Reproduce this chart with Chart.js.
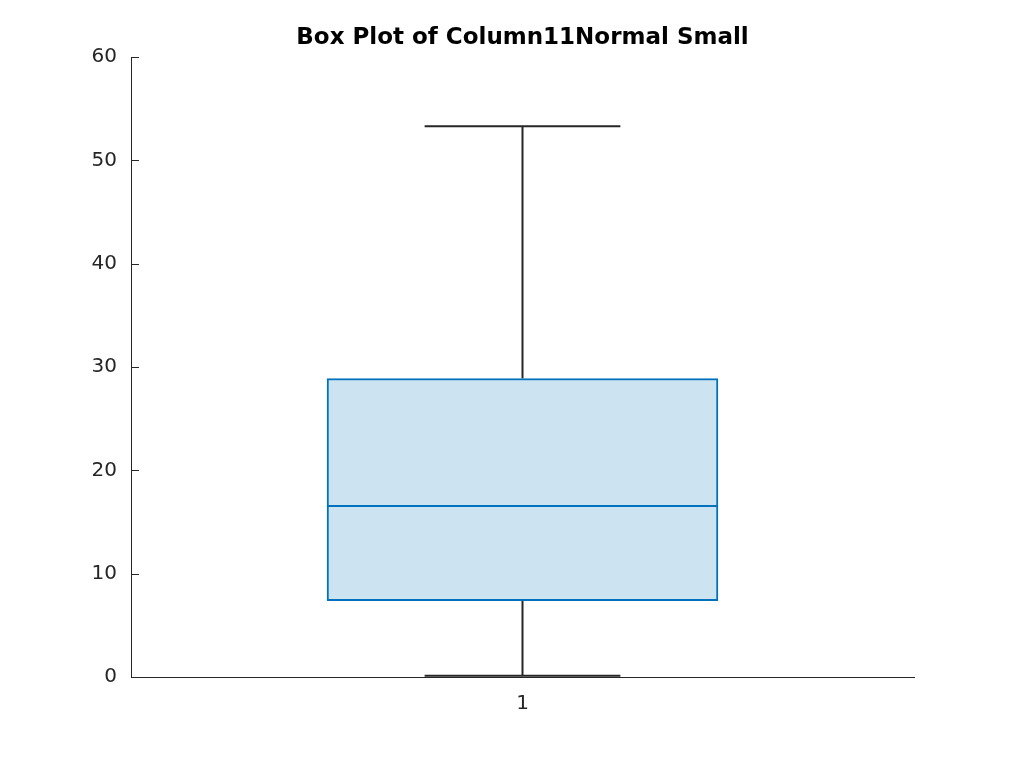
<!DOCTYPE html>
<html>
<head>
<meta charset="utf-8">
<script src="https://cdn.jsdelivr.net/npm/chart.js@4.4.0/dist/chart.umd.min.js"></script>
<style>
  body { margin: 0; background: #fff; }
  #wrap { width: 1011px; height: 761px; }
</style>
</head>
<body>
<div id="wrap"><canvas id="boxChart" width="1011" height="761"></canvas></div>
<script>
// box plot values
const categories = ['1'];
const lowerWhisker = [0.12];
const q1 = [7.35];
const median = [16.55];
const q3 = [28.9];
const upperWhisker = [53.3];
const yTicks = [0, 10, 20, 30, 40, 50, 60];

const axisColor = '#262626';
const boxBlue = '#0072BD';

// whiskers, median line and inward tick marks
const boxExtras = {
  id: 'boxExtras',
  afterDatasetsDraw(chart) {
    const ctx = chart.ctx;
    const y = chart.scales.y;
    const meta = chart.getDatasetMeta(0);
    meta.data.forEach((bar, i) => {
      const half = bar.width / 2;
      const capHalf = bar.width / 4;
      ctx.save();
      ctx.lineWidth = 2;
      ctx.strokeStyle = axisColor;
      ctx.beginPath();
      ctx.moveTo(bar.x, y.getPixelForValue(q3[i]));
      ctx.lineTo(bar.x, y.getPixelForValue(upperWhisker[i]));
      ctx.moveTo(bar.x, y.getPixelForValue(q1[i]));
      ctx.lineTo(bar.x, y.getPixelForValue(lowerWhisker[i]));
      ctx.moveTo(bar.x - capHalf, y.getPixelForValue(upperWhisker[i]));
      ctx.lineTo(bar.x + capHalf, y.getPixelForValue(upperWhisker[i]));
      ctx.moveTo(bar.x - capHalf, y.getPixelForValue(lowerWhisker[i]));
      ctx.lineTo(bar.x + capHalf, y.getPixelForValue(lowerWhisker[i]));
      ctx.stroke();
      ctx.strokeStyle = boxBlue;
      ctx.beginPath();
      ctx.moveTo(bar.x - half + 1, y.getPixelForValue(median[i]));
      ctx.lineTo(bar.x + half - 1, y.getPixelForValue(median[i]));
      ctx.stroke();
      ctx.restore();
    });
    // tick marks pointing into the plot
    const left = chart.chartArea.left;
    ctx.save();
    ctx.strokeStyle = axisColor;
    ctx.lineWidth = 1;
    ctx.beginPath();
    y.ticks.forEach(t => {
      const py = Math.round(y.getPixelForValue(t.value)) + 0.5;
      ctx.moveTo(left, py);
      ctx.lineTo(left + 8, py);
    });
    ctx.stroke();
    ctx.restore();
  }
};

new Chart(document.getElementById('boxChart'), {
  type: 'bar',
  data: {
    labels: categories,
    datasets: [{
      data: q1.map((v, i) => [v, q3[i]]),
      backgroundColor: 'rgba(0,114,189,0.2)',
      borderColor: boxBlue,
      borderWidth: 2,
      borderSkipped: false,
      barPercentage: 0.5,
      categoryPercentage: 1
    }]
  },
  options: {
    responsive: false,
    animation: false,
    layout: { padding: { left: 0, right: 97, top: 0, bottom: 0 } },
    plugins: {
      legend: { display: false },
      tooltip: { enabled: false },
      title: {
        display: true,
        fullSize: false,
        text: 'Box Plot of Column11Normal Small',
        color: '#000',
        font: { family: 'DejaVu Sans', size: 23, weight: 'bold', lineHeight: 1.2 },
        padding: { top: 24.5, bottom: 4.9 }
      }
    },
    scales: {
      x: {
        grid: { display: false, drawTicks: false },
        border: { display: true, color: axisColor, width: 1 },
        ticks: { color: axisColor, font: { family: 'DejaVu Sans', size: 20 }, padding: 15 },
        afterFit(scale) { scale.height = 84; }
      },
      y: {
        min: 0,
        max: 60,
        afterBuildTicks(scale) { scale.ticks = yTicks.map(v => ({ value: v })); },
        grid: { display: true, drawOnChartArea: false, drawTicks: false },
        border: { display: true, color: axisColor, width: 1 },
        ticks: { color: axisColor, font: { family: 'DejaVu Sans', size: 20 }, padding: 14 },
        afterFit(scale) { scale.width = 131; }
      }
    }
  },
  plugins: [boxExtras]
});
</script>
</body>
</html>
